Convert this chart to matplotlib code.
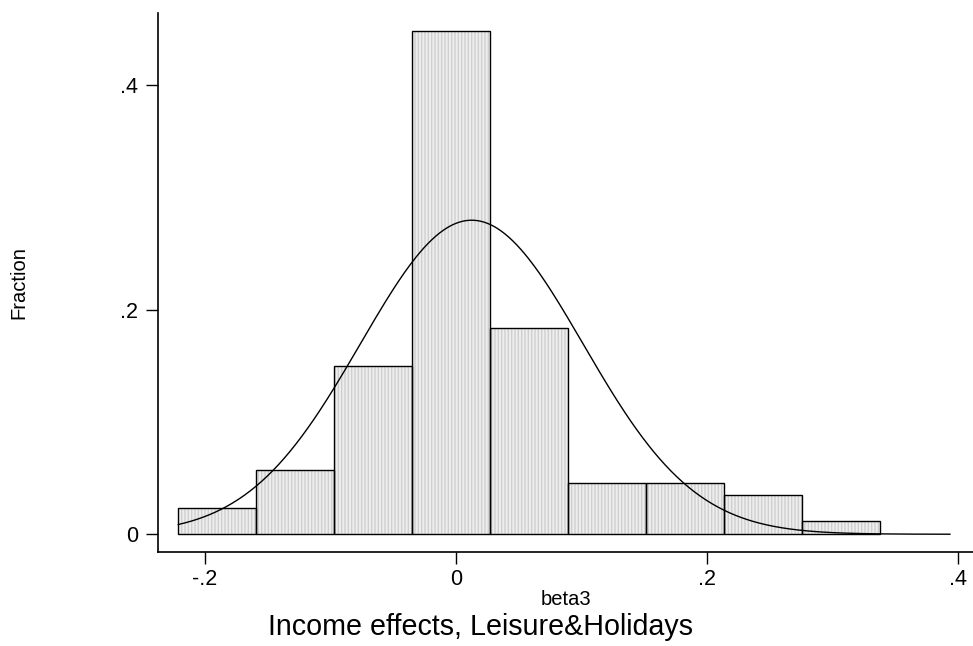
import matplotlib.pyplot as plt
import numpy as np

# histogram of beta3 (fraction per bin), 9 bins
bin_start = -0.2213
bin_width = 0.06216
fractions = [0.0230, 0.0575, 0.1494, 0.4483, 0.1839, 0.0460, 0.0460, 0.0345, 0.0115]

# normal overlay (peak ~0.28 near 0.0125)
beta_mean = 0.0125
beta_sd = 0.0887
curve_end = 0.3936

xticks = [-0.2, 0, 0.2, 0.4]
xtick_labels = ['-.2', '0', '.2', '.4']
yticks = [0, 0.2, 0.4]
ytick_labels = ['0', '.2', '.4']

plt.rcParams['font.family'] = ['Liberation Sans', 'DejaVu Sans']

fig = plt.figure(figsize=(9.73, 6.46), dpi=100)
ax = fig.add_axes([158 / 973, 94 / 646, 1 - 158 / 973, (552 - 12.7) / 646])

left_edges = bin_start + bin_width * np.arange(len(fractions))

# striped fill first, then black outlines on top
ax.bar(left_edges, fractions, width=bin_width, align='edge',
       facecolor='#eeeeee', edgecolor='#cfcfcf', hatch='|||||', linewidth=0)
ax.bar(left_edges, fractions, width=bin_width, align='edge',
       fill=False, edgecolor='black', linewidth=1.0)

xs = np.linspace(bin_start, curve_end, 400)
ys = bin_width * np.exp(-0.5 * ((xs - beta_mean) / beta_sd) ** 2) / (beta_sd * np.sqrt(2 * np.pi))
ax.plot(xs, ys, color='black', linewidth=1.0)

ax.set_xlim(-0.2375, 0.412)
ax.set_ylim(-0.0158, 0.4643)

ax.spines['top'].set_visible(False)
ax.spines['right'].set_visible(False)
ax.spines['left'].set_linewidth(1.2)
ax.spines['bottom'].set_linewidth(1.2)

ax.set_xticks(xticks)
ax.set_xticklabels(xtick_labels)
ax.set_yticks(yticks)
ax.set_yticklabels(ytick_labels)
ax.tick_params(axis='both', length=8.5, width=1.0, labelsize=15.5, pad=6)
ax.tick_params(axis='x', pad=4)

ax.set_xlabel('beta3', fontsize=14.5, labelpad=0)
ax.set_ylabel('Fraction', fontsize=14.5, labelpad=66)

fig.text(480 / 973, 1 - 627 / 646, 'Income effects, Leisure&Holidays',
         fontsize=20.6, ha='center', va='center')

fig.savefig('out.png', dpi=100)
